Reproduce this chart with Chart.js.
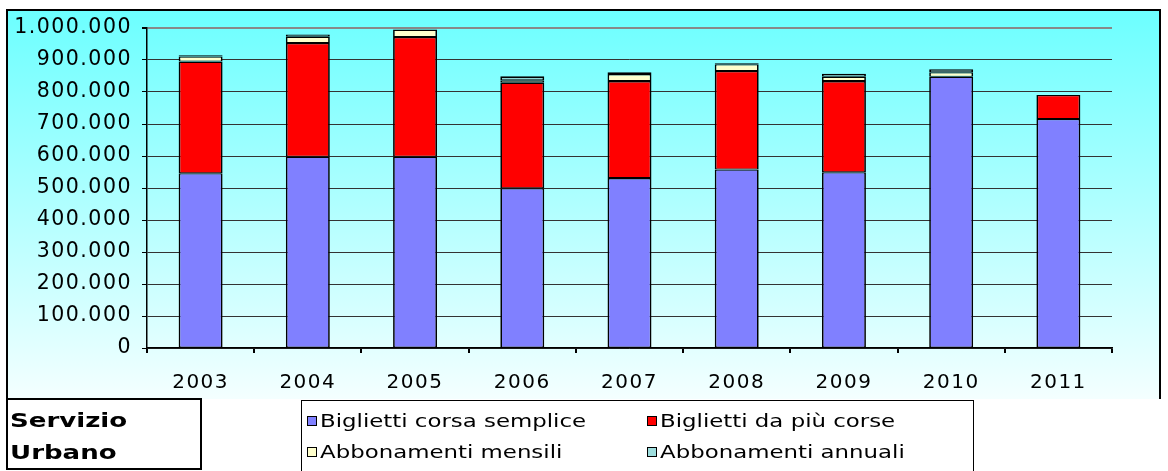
<!DOCTYPE html>
<html>
<head>
<meta charset="utf-8">
<script src="https://cdn.jsdelivr.net/npm/chart.js@4.4.0/dist/chart.umd.min.js"></script>
<style>
  body { margin: 0; background: #fff; font-family: "DejaVu Sans", sans-serif; }
  #frame {
    position: absolute; left: 6px; top: 9px; width: 1155px; height: 390px;
    box-sizing: border-box; border: 2px solid #000; border-bottom: none;
    background: linear-gradient(to bottom, #6cffff, #f4ffff);
  }
  #wrap { position: absolute; left: 0; top: 0; width: 1168px; height: 400px; }
  #titolo {
    position: absolute; left: 6px; top: 398px; width: 196px; height: 72px;
    box-sizing: border-box; border: 2px solid #000; background: #fff;
    font-weight: bold; font-size: 19px;
    line-height: 32px; padding: 4px 0 0 2px;
  }
  #titolo div { transform: scaleX(1.37); transform-origin: left center; }
  #legenda {
    position: absolute; left: 301px; top: 400px; width: 673px; height: 80px;
    box-sizing: border-box; border: 1.5px solid #000; background: #fff;
    display: grid; grid-template-columns: 340px 330px; grid-auto-rows: 31px;
    padding: 4px 0 0 5px;
  }
  .voce { display: flex; align-items: center; font-size: 18px; white-space: nowrap; }
  .voce span.q { width: 8px; height: 8px; border: 1px solid #000; margin-right: 3px; flex: none; }
  .voce span.t { display: inline-block; transform: scaleX(1.27); transform-origin: left center; }
</style>
</head>
<body>
<div id="frame"></div>
<div id="wrap"><canvas id="grafico" width="1168" height="400"></canvas></div>
<div id="titolo"><div>Servizio</div><div>Urbano</div></div>
<div id="legenda"></div>
<script>
// dati
const anni = ["2003", "2004", "2005", "2006", "2007", "2008", "2009", "2010", "2011"];
const corsaSemplice = [546000, 598000, 598000, 499000, 531000, 558000, 549000, 848000, 716000];
const piuCorse = [349000, 355000, 374000, 330000, 303000, 308000, 285000, 0, 75000];
const mensili = [16000, 20000, 23000, 8000, 22000, 21000, 14000, 14000, 0];
const annuali = [4000, 7000, 0, 12000, 6000, 3000, 9000, 9000, 0];
const tickY = ["0", "100.000", "200.000", "300.000", "400.000", "500.000", "600.000", "700.000", "800.000", "900.000", "1.000.000"];
const nomiSerie = ["Biglietti corsa semplice", "Biglietti da più corse", "Abbonamenti mensili", "Abbonamenti annuali"];
const coloriSerie = ["#8080ff", "#ff0000", "#ffffcc", "#9edede"];

Chart.defaults.font.family = "DejaVu Sans";
Chart.defaults.color = "#000";

// spaziatura lettere (il grafico originale e' stirato in larghezza)
const spaziatura = {
  id: "spaziatura",
  beforeLayout(chart) { chart.ctx.letterSpacing = "1.5px"; },
  beforeDraw(chart) { chart.ctx.letterSpacing = "1.5px"; }
};

let serie = [corsaSemplice, piuCorse, mensili, annuali];
let datasets = serie.map((valori, i) => ({
  label: nomiSerie[i],
  data: valori,
  backgroundColor: coloriSerie[i],
  borderColor: "#000",
  borderWidth: { top: i === 3 ? 2 : 1.3, bottom: 1, left: 1.7, right: 1.7 },
  borderSkipped: false,
  barPercentage: 0.41,
  categoryPercentage: 1
}));

var chart = new Chart(document.getElementById("grafico"), {
  type: "bar",
  data: { labels: anni, datasets: datasets },
  plugins: [spaziatura],
  options: {
    responsive: false,
    animation: false,
    devicePixelRatio: 1,
    layout: { padding: { top: 28, left: 0, right: 56, bottom: 0 } },
    plugins: { legend: { display: false }, tooltip: { enabled: false } },
    scales: {
      x: {
        stacked: true,
        afterFit: (scale) => { scale.height = 52; },
        grid: {
          offset: true,
          color: (c) => (c.index === anni.length ? "#888" : "rgba(0,0,0,0)"),
          lineWidth: 2,
          tickColor: "#000",
          tickLength: 5
        },
        border: { color: "#000", width: 1.5 },
        ticks: { font: { size: 20 }, padding: 18, maxRotation: 0 }
      },
      y: {
        stacked: true,
        min: 0,
        max: 1000000,
        afterFit: (scale) => { scale.width = 147; },
        grid: {
          color: (c) => (c.tick && c.tick.value === 1000000 ? "#888" : "#333"),
          lineWidth: (c) => (c.tick && c.tick.value === 1000000 ? 2 : 1),
          tickColor: "#000",
          tickLength: 5
        },
        border: { color: "#000", width: 1.5 },
        ticks: {
          stepSize: 100000,
          font: { size: 20.5 },
          padding: 10,
          callback: (v, i) => tickY[i]
        }
      }
    }
  }
});

// legenda a due colonne
let legenda = document.getElementById("legenda");
nomiSerie.forEach((nome, i) => {
  legenda.innerHTML += `<div class="voce"><span class="q" style="background:${coloriSerie[i]}"></span><span class="t">${nome}</span></div>`;
});
</script>
</body>
</html>
